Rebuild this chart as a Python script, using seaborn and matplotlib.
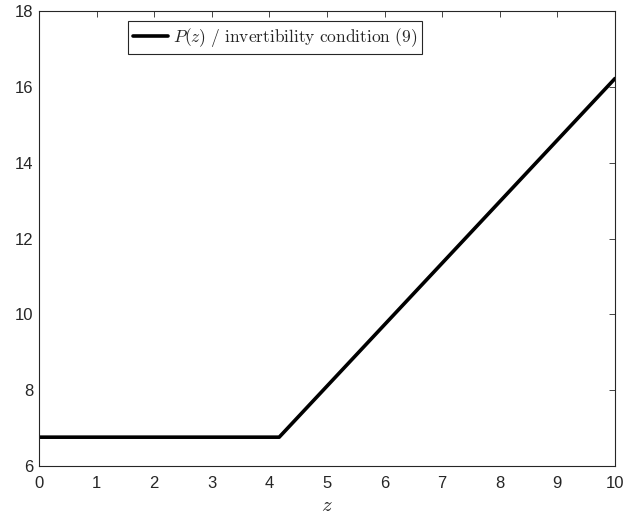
import matplotlib
matplotlib.use("Agg")
import matplotlib.pyplot as plt
import pandas as pd
import seaborn as sns

# valores
z_vals = [0.0, 4.17, 10.0]
p_vals = [6.76, 6.76, 16.22]
x_ticks = [0, 1, 2, 3, 4, 5, 6, 7, 8, 9, 10]
y_ticks = [6, 8, 10, 12, 14, 16, 18]
label = r"$P(z)\ /\ \mathrm{invertibility\ condition\ (9)}$"

sns.set_style("white")
plt.rcParams["font.family"] = ["Liberation Sans", "DejaVu Sans"]
plt.rcParams["mathtext.fontset"] = "cm"

df = pd.DataFrame({"z": z_vals, "P": p_vals})

fig = plt.figure(figsize=(6.25, 5.22), dpi=100)
ax = fig.add_axes([0.0624, 0.1073, 0.9216, 0.8716])
sns.lineplot(data=df, x="z", y="P", ax=ax, color="black", linewidth=2.6,
             label=label, sort=False)

ax.set_xlim(0, 10)
ax.set_ylim(6, 18)
ax.set_xticks(x_ticks)
ax.set_yticks(y_ticks)
ax.set_xlabel("$z$", fontsize=15, labelpad=4)
ax.set_ylabel("")

axis_gray = "#262626"
for s in ax.spines.values():
    s.set_color(axis_gray)
    s.set_linewidth(0.8)
ax.tick_params(direction="in", length=4, width=0.6, colors=axis_gray,
               labelsize=12, top=True, right=True)
ax.tick_params(axis="x", pad=7)
ax.tick_params(axis="y", pad=4)
for t in ax.get_xticklabels() + ax.get_yticklabels():
    t.set_color(axis_gray)

leg = ax.legend(loc="upper center", fontsize=12.5, frameon=True, fancybox=False,
                handlelength=2.0, handletextpad=0.3, borderpad=0.3,
                borderaxespad=0.55, bbox_to_anchor=(0.41, 1.0))
leg.get_frame().set_edgecolor(axis_gray)
leg.get_frame().set_linewidth(0.8)
leg.get_frame().set_alpha(1)

fig.savefig("out.png", dpi=100)
